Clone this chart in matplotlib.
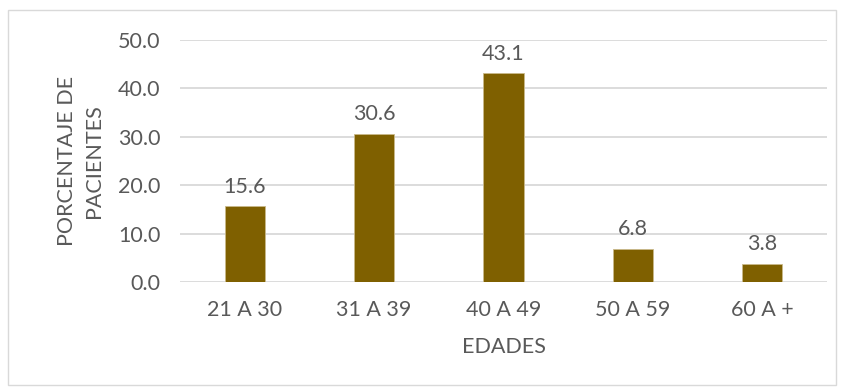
import matplotlib
matplotlib.use("Agg")
import matplotlib.pyplot as plt
from matplotlib.patches import Rectangle

# data
categorias = ["21 A 30", "31 A 39", "40 A 49", "50 A 59", "60 A +"]
porcentajes = [15.6, 30.6, 43.1, 6.8, 3.8]
y_ticks = [0, 10, 20, 30, 40, 50]

bar_color = "#7F6000"
text_color = "#595959"
grid_color = "#D9D9D9"

plt.rcParams["font.family"] = ["Lato", "DejaVu Sans"]
fs = 15.5

fig = plt.figure(figsize=(8.44, 3.91), dpi=100)
ax = fig.add_axes([180/844, 1 - 282/391, (827-180)/844, (282-40)/391])

x = range(len(categorias))
ax.bar(x, porcentajes, width=0.31, color=bar_color, edgecolor="#C9B98A", linewidth=0.6, zorder=3)

for xi, v in zip(x, porcentajes):
    ax.annotate(f"{v:.1f}", (xi, v), xytext=(0, 7), textcoords="offset points",
                ha="center", va="bottom", fontsize=fs, color=text_color)

ax.set_xlim(-0.5, len(categorias) - 0.5)
ax.set_ylim(0, 50)
ax.set_yticks(y_ticks)
ax.set_yticklabels([f"{t:.1f}" for t in y_ticks])
ax.set_xticks(list(x))
ax.set_xticklabels(categorias)
ax.tick_params(axis="both", length=0, labelsize=fs, colors=text_color)
ax.tick_params(axis="y", pad=14)
ax.tick_params(axis="x", pad=13)
ax.grid(axis="y", color=grid_color, linewidth=1.3, zorder=0)
for s in ax.spines.values():
    s.set_visible(False)

ax.set_xlabel("EDADES", fontsize=fs, color=text_color, labelpad=12)
ax.set_ylabel("PORCENTAJE DE\nPACIENTES", fontsize=fs, color=text_color, labelpad=10,
              linespacing=1.45)

# border around chart
fig.patches.append(Rectangle((8/844, 6/391), 828/844, 375/391, transform=fig.transFigure,
                             fill=False, edgecolor="#D9D9D9", linewidth=1))

fig.savefig("out.png", dpi=100)
